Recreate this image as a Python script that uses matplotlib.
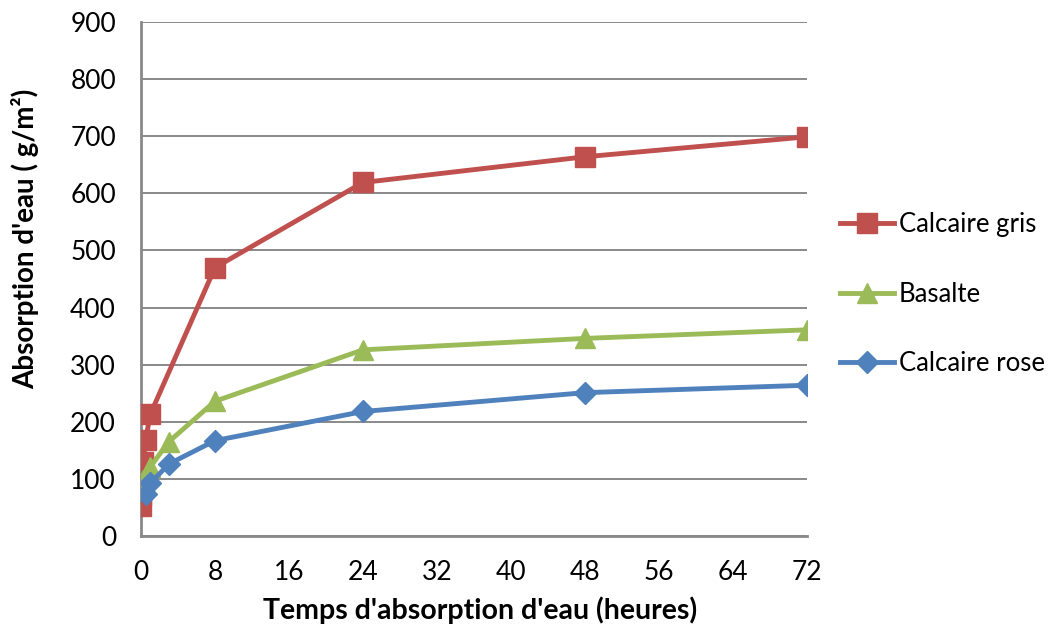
import matplotlib
matplotlib.use("Agg")
import matplotlib.pyplot as plt

plt.rcParams['font.family'] = ['Lato', 'DejaVu Sans']

t_gris = [0.02, 0.05, 0.08, 0.17, 0.25, 0.5, 1, 8, 24, 48, 72]
v_gris = [52, 72, 95, 115, 130, 168, 213, 470, 619, 664, 699]
t_bas = [0.25, 1, 3, 8, 24, 48, 72]
v_bas = [98, 121, 165, 236, 326, 346, 361]
t_rose = [0.5, 1, 3, 8, 24, 48, 72]
v_rose = [74, 92, 126, 167, 218, 251, 264]

xticks = [0, 8, 16, 24, 32, 40, 48, 56, 64, 72]
yticks = [0, 100, 200, 300, 400, 500, 600, 700, 800, 900]

fig = plt.figure(figsize=(10.57, 6.32), dpi=100)
ax = fig.add_axes([141/1057, 1-536/632, (807-141)/1057, (536-22)/632])

ax.plot(t_gris, v_gris, color='#C0504D', lw=3.5, marker='s', ms=14, label='Calcaire gris', zorder=3)
ax.plot(t_bas, v_bas, color='#9BBB59', lw=3.5, marker='^', ms=14, label='Basalte', zorder=3)
ax.plot(t_rose, v_rose, color='#4F81BD', lw=3.5, marker='D', ms=11, label='Calcaire rose', zorder=3)

ax.set_xlim(0, 72)
ax.set_ylim(0, 900)
ax.set_xticks(xticks)
ax.set_yticks(yticks)
ax.tick_params(labelsize=19, length=0, labelcolor='black')
ax.tick_params(axis='x', pad=17)
ax.tick_params(axis='y', pad=18)
ax.grid(axis='y', color='#898989', lw=1.4)
ax.set_axisbelow(True)
for s in ['top', 'right']:
    ax.spines[s].set_visible(False)
for s in ['left', 'bottom']:
    ax.spines[s].set_color('#898989')
    ax.spines[s].set_linewidth(2)
ax.spines['bottom'].set_zorder(4)

ax.set_xlabel("Temps d'absorption d'eau (heures)", fontsize=20.5, fontweight='bold')
ax.set_ylabel("Absorption d'eau ( g/m²)", fontsize=20, fontweight='bold')
ax.xaxis.set_label_coords(0.509, -0.144)
ax.yaxis.set_label_coords(-0.174, 0.578)
ax.xaxis.label.set_va('center')
ax.yaxis.label.set_va('center')

leg = fig.legend(*ax.get_legend_handles_labels(), loc='center left',
                 bbox_to_anchor=(840/1057, 1-294/632), frameon=False, fontsize=18.5,
                 labelspacing=1.75, handlelength=2.1, handletextpad=0.2, borderpad=0,
                 borderaxespad=0)

fig.savefig('out.png', dpi=100)
